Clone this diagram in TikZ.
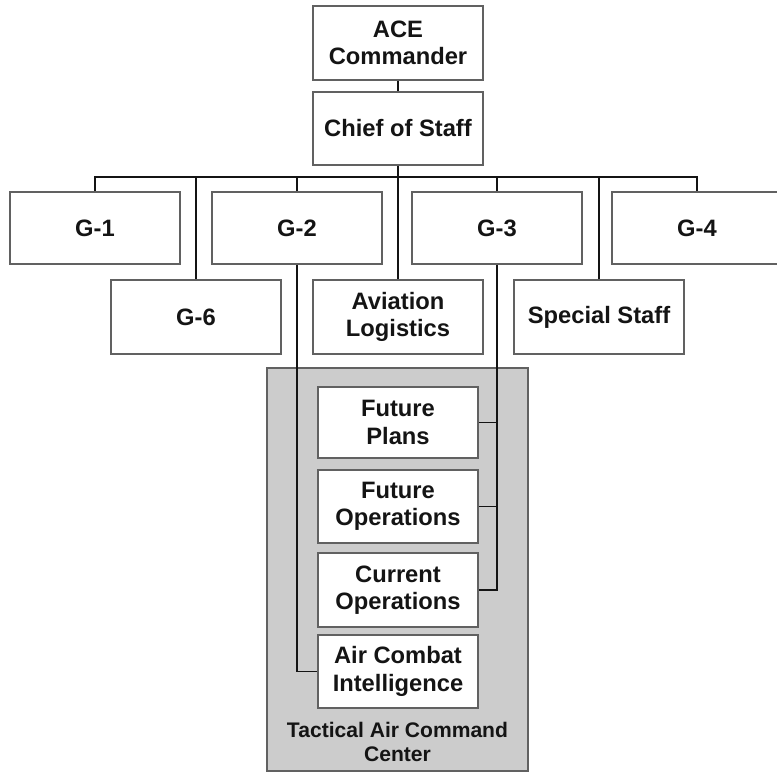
\documentclass[tikz,border=0pt]{standalone}
\usepackage{fontspec}
\setmainfont{Liberation Sans}
\definecolor{boxline}{gray}{0.38}
\definecolor{taccfill}{gray}{0.80}
\definecolor{ink}{gray}{0.08}
\begin{document}
\begin{tikzpicture}[x=0.02cm,y=-0.02cm,
  obox/.style={draw=boxline, line width=1.1pt, fill=white, inner sep=0pt,
    minimum width=3.4cm, align=center, text=ink,
    font=\bfseries\fontsize{13.5}{15.5}\selectfont},
  ibox/.style={obox, minimum width=3.2cm},
  conn/.style={draw=ink, line width=1.1pt}]
\clip (0,0) rectangle (777,774);
\fill[white] (0,0) rectangle (777,774);
% TACC container
\node[draw=boxline, fill=taccfill, line width=1.1pt, minimum width=5.22cm,
  minimum height=8.06cm, inner sep=0pt] (tacc) at (397.5,569.5) {};
\node[align=center, text=ink, inner sep=0pt,
  font=\bfseries\fontsize{12}{13.6}\selectfont] (tacclabel) at (397.5,742)
  {Tactical Air Command\\Center};
% top
\node[obox, minimum height=1.48cm] (ace) at (398,43) {ACE\\Commander};
\node[obox, minimum height=1.46cm] (cos) at (398,128.5) {Chief of Staff};
% first row
\node[obox, minimum height=1.44cm] (g1) at (95,228) {G-1};
\node[obox, minimum height=1.44cm] (g2) at (297,228) {G-2};
\node[obox, minimum height=1.44cm] (g3) at (497,228) {G-3};
\node[obox, minimum height=1.44cm] (g4) at (697,228) {G-4};
% second row
\node[obox, minimum height=1.48cm] (g6) at (196,317) {G-6};
\node[obox, minimum height=1.48cm] (avl) at (398,317) {Aviation\\Logistics};
\node[obox, minimum height=1.48cm] (ss) at (599,317) {Special Staff};
% inner boxes
\node[ibox, minimum height=1.42cm] (fp) at (398,422.5) {Future\\Plans};
\node[ibox, minimum height=1.46cm] (fo) at (398,506.5) {Future\\Operations};
\node[ibox, minimum height=1.48cm] (co) at (398,590) {Current\\Operations};
\node[ibox, minimum height=1.46cm] (aci) at (398,671.5) {Air Combat\\Intelligence};
% connectors
\coordinate (busy) at (0,177);
\draw[conn] (ace.south) -- (cos.north);
\draw[conn] (cos.south) -- (avl.north);
\draw[conn] (g1.north) -- (g1.north |- busy) -- (g4.north |- busy) -- (g4.north);
\foreach \n in {g2,g3,g6,ss} \draw[conn] (\n.north) -- (\n.north |- busy);
\draw[conn] (g2.south) |- (aci.west);
\draw[conn] (g3.south) |- (co.east);
\draw[conn] (fp.east) -- (fp.east -| g3.south);
\draw[conn] (fo.east) -- (fo.east -| g3.south);
\end{tikzpicture}
\end{document}
